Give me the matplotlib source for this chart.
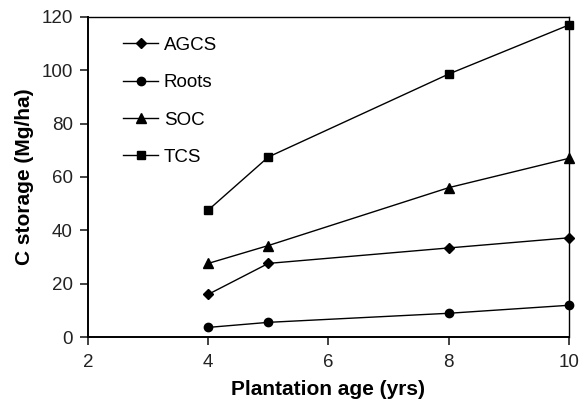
import matplotlib
matplotlib.use("Agg")
import matplotlib.pyplot as plt

plt.rcParams["font.family"] = ["Liberation Sans", "DejaVu Sans"]

# Plantation age (yrs)
age = [4, 5, 8, 10]

# Carbon storage (Mg/ha)
agcs = [16.0, 27.6, 33.4, 37.2]
roots = [3.6, 5.5, 8.9, 11.9]
soc = [27.6, 34.3, 56.0, 67.0]
tcs = [47.6, 67.5, 98.6, 117.0]

series = [
    ("AGCS", agcs, "D", 5),
    ("Roots", roots, "o", 6),
    ("SOC", soc, "^", 6.5),
    ("TCS", tcs, "s", 5.5),
]

fig = plt.figure(figsize=(5.8, 4.04), dpi=100)
ax = fig.add_axes([0.1517, 0.1658, 0.8293, 0.7922])

for name, vals, m, ms in series:
    ax.plot(age, vals, color="black", lw=1.0, marker=m, ms=ms,
            mfc="black", mec="black", label=name, clip_on=False, zorder=3)

ax.set_xlim(2, 10)
ax.set_ylim(0, 120)
ax.set_xticks([2, 4, 6, 8, 10])
ax.set_yticks(range(0, 121, 20))
ax.tick_params(direction="out", length=6, width=1.2, labelsize=13.5,
               top=False, right=False, colors="#222222", labelcolor="#222222")
ax.tick_params(axis="x", pad=6)
ax.tick_params(axis="y", pad=5)
for side in ["left", "bottom"]:
    ax.spines[side].set_linewidth(1.4)
for side in ["top", "right"]:
    ax.spines[side].set_linewidth(1.0)

ax.set_xlabel("Plantation age (yrs)", fontsize=15, fontweight="bold", labelpad=7)
ax.set_ylabel("C storage (Mg/ha)", fontsize=15, fontweight="bold", labelpad=5)

leg = ax.legend(loc="upper left", bbox_to_anchor=(0.058, 0.962), frameon=False,
                fontsize=13.5, labelspacing=1.08, handlelength=1.85,
                handletextpad=0.3, borderaxespad=0)

fig.savefig("out.png", dpi=100)
